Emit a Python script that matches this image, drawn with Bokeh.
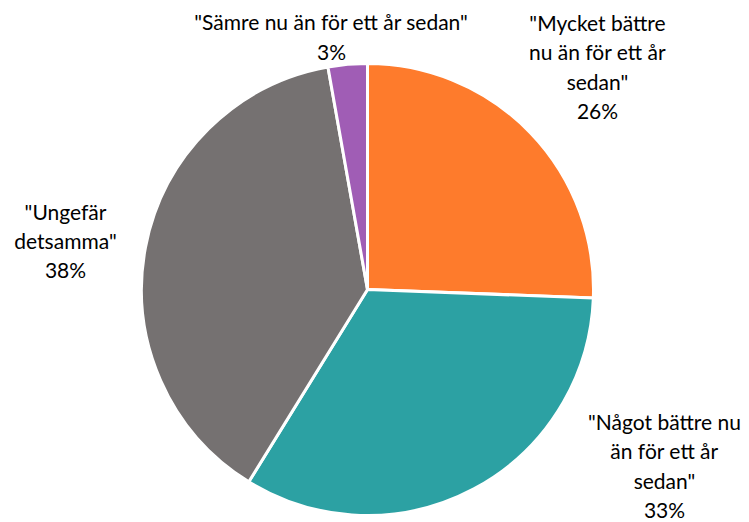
from bokeh.plotting import figure
from bokeh.models import Range1d, ColumnDataSource
from bokeh.core.properties import value
from bokeh.embed import file_html
from bokeh.resources import INLINE
import math

# data
categories = ['"Mycket bättre\nnu än för ett år\nsedan"',
              '"Något bättre nu\nän för ett år\nsedan"',
              '"Ungefär\ndetsamma"',
              '"Sämre nu än för ett år sedan"']
shares = [25.6, 33.2, 38.4, 2.8]
colors = ["#FE7B2C", "#2CA1A3", "#757171", "#A05DB5"]

W, H = 745, 521
cx, cy, R = 367, H - 289, 226

total = sum(shares)
starts, ends = [], []
cum = 0.0
for s in shares:
    starts.append(math.pi / 2 - 2 * math.pi * cum / total)
    cum += s
    ends.append(math.pi / 2 - 2 * math.pi * cum / total)

p = figure(width=W, height=H, output_backend="svg", toolbar_location=None,
           x_range=Range1d(0, W), y_range=Range1d(0, H), min_border=0,
           background_fill_color="white", border_fill_color="white")
p.axis.visible = False
p.grid.visible = False
p.outline_line_color = None

src = ColumnDataSource(dict(start=starts, end=ends, color=colors))
p.wedge(x=cx, y=cy, radius=R, start_angle="start", end_angle="end",
        direction="clock", fill_color="color", line_color="white",
        line_width=3, source=src)

# label layout (block centers, image-pixel based)
label_pos = [(597, H - 66), (664, H - 465), (65, H - 240), (331, H - 36)]
labels = [c + "\n" + f"{round(s)}%" for c, s in zip(categories, shares)]
lsrc = ColumnDataSource(dict(x=[q[0] for q in label_pos], y=[q[1] for q in label_pos], t=labels))
p.text(x="x", y="y", text="t", source=lsrc, text_align="center",
       text_baseline="middle", text_font=value("Lato"), text_font_size="21px",
       text_line_height=1.17, text_color="#000000")

open("out.html", "w").write(file_html(p, INLINE))
